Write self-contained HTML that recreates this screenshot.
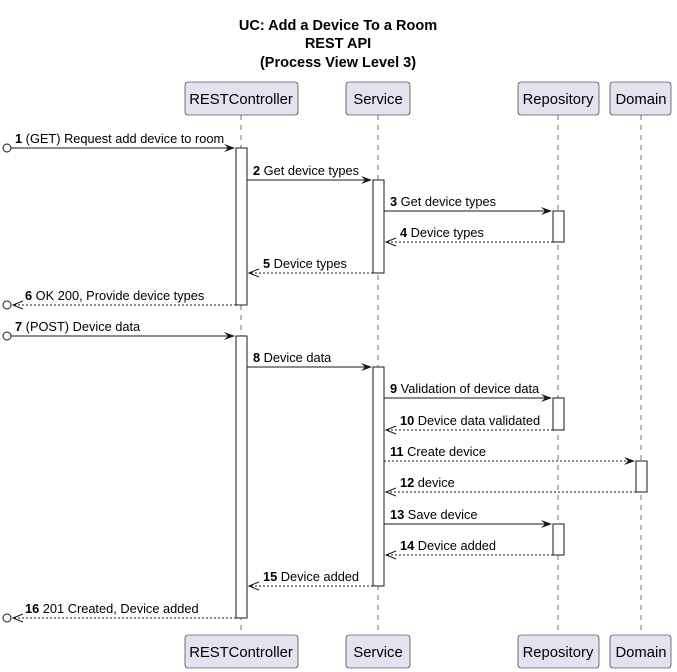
<!DOCTYPE html>
<html><head><style>body{margin:0;background:#fff}svg{display:block}text{font-family:"Liberation Sans",sans-serif}</style></head><body>
<svg width="677" height="672" xmlns="http://www.w3.org/2000/svg">
<g font-weight="bold" font-size="14.5" text-anchor="middle" fill="#000">
<text x="338" y="30">UC: Add a Device To a Room</text>
<text x="338" y="48">REST API</text>
<text x="338" y="67">(Process View Level 3)</text>
</g>
<g stroke="#181818" stroke-width="0.6" stroke-dasharray="5,5">
<line x1="241" y1="115" x2="241" y2="635"/>
<line x1="378" y1="115" x2="378" y2="635"/>
<line x1="558" y1="115" x2="558" y2="635"/>
<line x1="641" y1="115" x2="641" y2="635"/>
</g>
<g fill="#E2E2F0" stroke="#181818" stroke-width="0.6">
<rect x="185" y="82" width="113" height="33" rx="3"/><rect x="346" y="82" width="64" height="33" rx="3"/><rect x="518" y="82" width="81" height="33" rx="3"/><rect x="610" y="82" width="61" height="33" rx="3"/>
<rect x="185" y="635" width="113" height="33" rx="3"/><rect x="346" y="635" width="64" height="33" rx="3"/><rect x="518" y="635" width="81" height="33" rx="3"/><rect x="610" y="635" width="61" height="33" rx="3"/>
</g>
<g font-size="14.8" text-anchor="middle" fill="#000">
<text x="241" y="104">RESTController</text><text x="378" y="104">Service</text><text x="558" y="104">Repository</text><text x="641" y="104">Domain</text>
<text x="241" y="657">RESTController</text><text x="378" y="657">Service</text><text x="558" y="657">Repository</text><text x="641" y="657">Domain</text>
</g>
<g fill="#fff" stroke="#181818" stroke-width="1">
<rect x="236" y="148" width="11" height="157"/><rect x="236" y="336" width="11" height="282"/>
<rect x="373" y="180" width="11" height="93"/><rect x="373" y="367" width="11" height="219"/>
<rect x="553" y="211" width="11" height="31"/><rect x="553" y="398" width="11" height="32"/><rect x="553" y="524" width="11" height="31"/>
<rect x="636" y="461" width="11" height="31"/>
</g>
<g stroke="#181818" stroke-width="1" fill="none">
<circle cx="7" cy="148" r="4"/><circle cx="7" cy="305" r="4"/><circle cx="7" cy="336" r="4"/><circle cx="7" cy="618" r="4"/>
<line x1="11" y1="148" x2="234" y2="148"/>
<line x1="247" y1="180" x2="371" y2="180"/>
<line x1="384" y1="211" x2="551" y2="211"/>
<line x1="553" y1="242" x2="386" y2="242" stroke-dasharray="2,2"/>
<line x1="373" y1="273" x2="249" y2="273" stroke-dasharray="2,2"/>
<line x1="236" y1="305" x2="13" y2="305" stroke-dasharray="2,2"/>
<line x1="11" y1="336" x2="234" y2="336"/>
<line x1="247" y1="367" x2="371" y2="367"/>
<line x1="384" y1="398" x2="551" y2="398"/>
<line x1="553" y1="430" x2="386" y2="430" stroke-dasharray="2,2"/>
<line x1="384" y1="461" x2="634" y2="461" stroke-dasharray="2,2"/>
<line x1="636" y1="492" x2="386" y2="492" stroke-dasharray="2,2"/>
<line x1="384" y1="524" x2="551" y2="524"/>
<line x1="553" y1="555" x2="386" y2="555" stroke-dasharray="2,2"/>
<line x1="373" y1="586" x2="249" y2="586" stroke-dasharray="2,2"/>
<line x1="236" y1="618" x2="13" y2="618" stroke-dasharray="2,2"/>
<polyline points="396,238 386,242 396,246"/><polyline points="259,269 249,273 259,277"/><polyline points="23,301 13,305 23,309"/>
<polyline points="396,426 386,430 396,434"/><polyline points="396,488 386,492 396,496"/><polyline points="396,551 386,555 396,559"/>
<polyline points="259,582 249,586 259,590"/><polyline points="23,614 13,618 23,622"/>
</g>
<g fill="#181818">
<polygon points="224,144 235,148 224,152 228,148"/><polygon points="361,176 372,180 361,184 365,180"/><polygon points="541,207 552,211 541,215 545,211"/>
<polygon points="224,332 235,336 224,340 228,336"/><polygon points="361,363 372,367 361,371 365,367"/><polygon points="541,394 552,398 541,402 545,398"/>
<polygon points="624,457 635,461 624,465 628,461"/><polygon points="541,520 552,524 541,528 545,524"/>
</g>
<g font-size="12.8" fill="#000">
<text x="15" y="143"><tspan font-weight="bold">1</tspan> (GET) Request add device to room</text>
<text x="253" y="175"><tspan font-weight="bold">2</tspan> Get device types</text>
<text x="390" y="206"><tspan font-weight="bold">3</tspan> Get device types</text>
<text x="400" y="237"><tspan font-weight="bold">4</tspan> Device types</text>
<text x="263" y="268"><tspan font-weight="bold">5</tspan> Device types</text>
<text x="25" y="300"><tspan font-weight="bold">6</tspan> OK 200, Provide device types</text>
<text x="15" y="331"><tspan font-weight="bold">7</tspan> (POST) Device data</text>
<text x="253" y="362"><tspan font-weight="bold">8</tspan> Device data</text>
<text x="390" y="393"><tspan font-weight="bold">9</tspan> Validation of device data</text>
<text x="400" y="425"><tspan font-weight="bold">10</tspan> Device data validated</text>
<text x="390" y="456"><tspan font-weight="bold">11</tspan> Create device</text>
<text x="400" y="487"><tspan font-weight="bold">12</tspan> device</text>
<text x="390" y="519"><tspan font-weight="bold">13</tspan> Save device</text>
<text x="400" y="550"><tspan font-weight="bold">14</tspan> Device added</text>
<text x="263" y="581"><tspan font-weight="bold">15</tspan> Device added</text>
<text x="25" y="613"><tspan font-weight="bold">16</tspan> 201 Created, Device added</text>
</g>
</svg>
</body></html>
